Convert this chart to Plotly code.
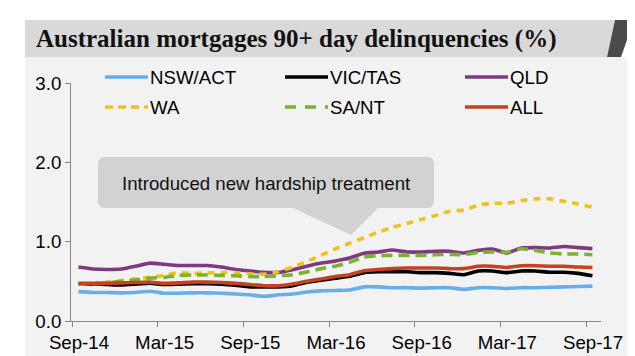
import plotly.graph_objects as go

# ---------------- data ----------------
months = ["Sep-14","Oct-14","Nov-14","Dec-14","Jan-15","Feb-15","Mar-15","Apr-15","May-15","Jun-15",
          "Jul-15","Aug-15","Sep-15","Oct-15","Nov-15","Dec-15","Jan-16","Feb-16","Mar-16","Apr-16",
          "May-16","Jun-16","Jul-16","Aug-16","Sep-16","Oct-16","Nov-16","Dec-16","Jan-17","Feb-17",
          "Mar-17","Apr-17","May-17","Jun-17","Jul-17","Aug-17","Sep-17"]

nsw_act = [0.37,0.36,0.36,0.355,0.36,0.375,0.35,0.35,0.355,0.355,0.35,0.34,0.33,0.31,0.33,0.34,0.366,0.38,
           0.385,0.39,0.43,0.43,0.42,0.42,0.415,0.42,0.42,0.40,0.42,0.42,0.41,0.42,0.42,0.425,0.43,0.435,0.44]
vic_tas = [0.47,0.465,0.46,0.455,0.465,0.475,0.46,0.465,0.47,0.47,0.465,0.45,0.43,0.43,0.43,0.445,0.49,0.515,
           0.54,0.565,0.61,0.62,0.62,0.62,0.61,0.61,0.60,0.584,0.63,0.63,0.61,0.63,0.63,0.615,0.615,0.60,0.57]
qld     = [0.68,0.656,0.65,0.656,0.69,0.73,0.715,0.70,0.70,0.70,0.68,0.65,0.63,0.613,0.613,0.647,0.69,0.73,
           0.757,0.794,0.853,0.87,0.895,0.87,0.87,0.88,0.879,0.857,0.89,0.908,0.857,0.92,0.925,0.92,0.94,0.925,0.912]
wa      = [0.47,0.47,0.49,0.51,0.53,0.55,0.575,0.61,0.60,0.605,0.61,0.61,0.595,0.59,0.62,0.68,0.75,0.83,
           0.91,0.98,1.05,1.12,1.18,1.23,1.28,1.33,1.383,1.40,1.46,1.484,1.484,1.517,1.54,1.54,1.51,1.475,1.434]
sa_nt   = [0.47,0.47,0.48,0.50,0.52,0.54,0.55,0.575,0.58,0.58,0.575,0.57,0.56,0.56,0.57,0.584,0.618,0.66,
           0.69,0.74,0.807,0.823,0.827,0.827,0.827,0.835,0.84,0.836,0.865,0.87,0.865,0.91,0.89,0.857,0.845,0.845,0.836]
all_    = [0.475,0.475,0.475,0.48,0.485,0.49,0.475,0.48,0.49,0.49,0.485,0.475,0.46,0.445,0.445,0.467,0.50,0.53,
           0.56,0.584,0.634,0.65,0.66,0.668,0.668,0.668,0.66,0.66,0.69,0.69,0.675,0.697,0.697,0.69,0.69,0.68,0.675]

series_names = ["NSW/ACT", "VIC/TAS", "QLD", "WA", "SA/NT", "ALL"]
series_values = [nsw_act, vic_tas, qld, wa, sa_nt, all_]
tick_labels = ["Sep-14", "Mar-15", "Sep-15", "Mar-16", "Sep-16", "Mar-17", "Sep-17"]
y_ticks = [0, 1, 2, 3]

title_text = "Australian mortgages 90+ day delinquencies (%)"
callout_text = "Introduced new hardship treatment"

# ---------------- styles ----------------
colors = ["#68aee8", "#000000", "#7e3a80", "#eec21c", "#7bb22f", "#c4421f"]
dashes = ["solid", "solid", "solid", "7px,6px", "11px,6px", "solid"]
legend_dashes = ["solid", "solid", "solid", "8px,5px", "11px,9px", "solid"]
SANS = "Liberation Sans, Arial, sans-serif"
FS = 18.67

W, H = 635, 356
L, R, T, B = 63, 42, 75, 43
PW, PH = W - L - R, H - T - B

def px(x):
    return (x - L) / PW

def py(y):
    return (T + PH - y) / PH

x_idx = list(range(len(months)))

fig = go.Figure()
for name, vals, c, d in zip(series_names, series_values, colors, dashes):
    fig.add_trace(go.Scatter(
        x=x_idx, y=vals, name=name, mode="lines",
        line=dict(color=c, width=3.6, dash=d, shape="spline", smoothing=0.4),
        text=months, hovertemplate="%{text}: %{y:.2f}<extra>" + name + "</extra>",
        showlegend=False,
    ))

shapes = []
annotations = []

# gray panel behind the chart
shapes.append(dict(type="rect", xref="paper", yref="paper", layer="below",
                   x0=px(17), x1=px(640), y0=py(49), y1=py(348),
                   fillcolor="#f2f2f2", line=dict(width=0)))

def poly(points):
    return "M " + " L ".join(f"{px(a):.5f},{py(b):.5f}" for a, b in points) + " Z"

# title bar with dark slanted end
shapes.append(dict(type="path", xref="paper", yref="paper", layer="below",
                   path=poly([(17, 12), (607, 12), (599, 49), (17, 49)]),
                   fillcolor="#d9d9d9", line=dict(width=0)))
shapes.append(dict(type="path", xref="paper", yref="paper", layer="below",
                   path=poly([(607, 12), (626, 12), (613, 49), (599, 49)]),
                   fillcolor="#4b4b4b", line=dict(width=0)))
annotations.append(dict(text="<b>" + title_text + "</b>", xref="paper", yref="paper",
                        x=px(27), y=py(31), xanchor="left", yanchor="middle", showarrow=False,
                        borderpad=0,
                        font=dict(family="Liberation Serif, Times New Roman, serif", size=25, color="#111111")))

# legend (3 columns x 2 rows)
for j, (name, c, d) in enumerate(zip(series_names, colors, legend_dashes)):
    col, row = j % 3, j // 3
    x0 = 97 + 180 * col
    yy = 69 + 30 * row
    shapes.append(dict(type="line", xref="paper", yref="paper",
                       x0=px(x0), x1=px(x0 + 43), y0=py(yy), y1=py(yy),
                       line=dict(color=c, width=3.6, dash=d)))
    annotations.append(dict(text=name, xref="paper", yref="paper", x=px(x0 + 44), y=py(yy),
                            xanchor="left", yanchor="middle", showarrow=False, borderpad=0,
                            font=dict(family=SANS, size=FS, color="#000000")))

# callout bubble
bx0, bx1, by0, by1, r = 90, 426, 149, 200, 7
pts = f"M {px(bx0 + r)},{py(by0)} L {px(bx1 - r)},{py(by0)} Q {px(bx1)},{py(by0)} {px(bx1)},{py(by0 + r)} " \
      f"L {px(bx1)},{py(by1 - r)} Q {px(bx1)},{py(by1)} {px(bx1 - r)},{py(by1)} " \
      f"L {px(370)},{py(by1)} L {px(343)},{py(227)} L {px(285)},{py(by1)} " \
      f"L {px(bx0 + r)},{py(by1)} Q {px(bx0)},{py(by1)} {px(bx0)},{py(by1 - r)} " \
      f"L {px(bx0)},{py(by0 + r)} Q {px(bx0)},{py(by0)} {px(bx0 + r)},{py(by0)} Z"
shapes.append(dict(type="path", xref="paper", yref="paper", path=pts,
                   fillcolor="#d2d2d2", line=dict(width=0)))
annotations.append(dict(text=callout_text, xref="paper", yref="paper",
                        x=px(258), y=py(175), xanchor="center", yanchor="middle",
                        showarrow=False, borderpad=0,
                        font=dict(family=SANS, size=FS, color="#111111")))

tick_positions = [months.index(t) - 0.45 for t in tick_labels]

fig.update_layout(
    width=W, height=H,
    margin=dict(l=L, r=R, t=T, b=B, pad=0),
    paper_bgcolor="#ffffff", plot_bgcolor="#f2f2f2",
    shapes=shapes, annotations=annotations,
    showlegend=False,
    font=dict(family=SANS, size=FS, color="#000000"),
    xaxis=dict(range=[-0.52, 36.6], tickvals=tick_positions, ticktext=tick_labels,
               ticklabelshift=7, ticklabelstandoff=0, showgrid=False, zeroline=False, showline=True,
               linecolor="#868686", linewidth=1, ticks="outside", ticklen=5,
               tickcolor="#868686", tickfont=dict(size=FS)),
    yaxis=dict(range=[0, 3], tickvals=y_ticks, tickformat=".1f", showgrid=False,
               zeroline=False, showline=True, linecolor="#868686", linewidth=1,
               ticks="outside", ticklen=5, tickcolor="#868686", tickfont=dict(size=FS)),
)

fig.write_html("out.html")
